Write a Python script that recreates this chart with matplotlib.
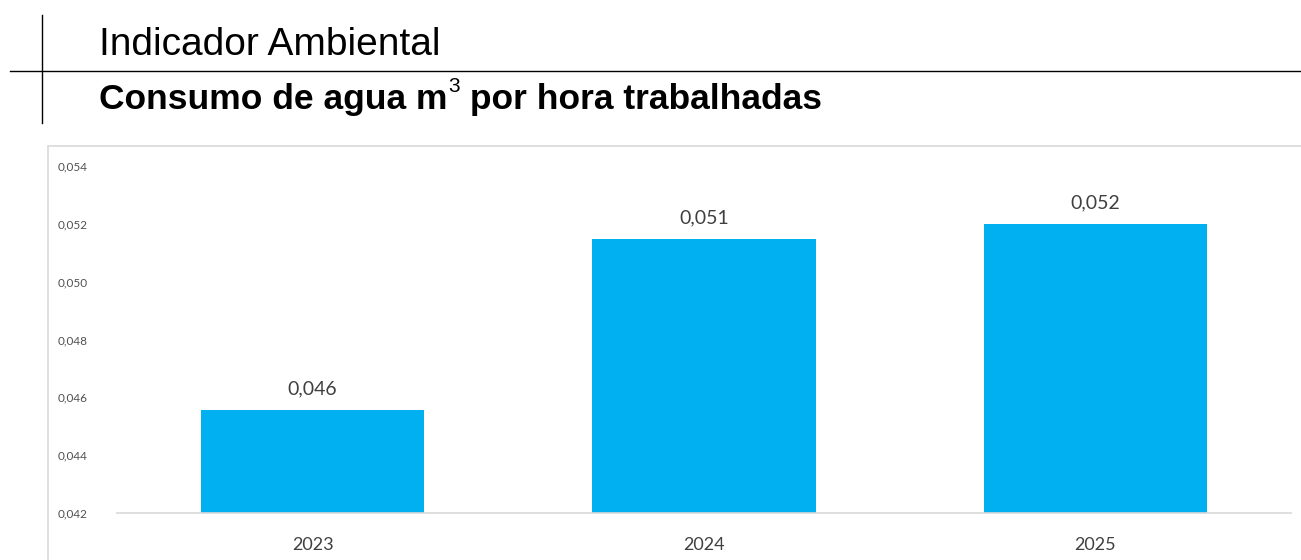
import matplotlib.pyplot as plt
from matplotlib.patches import Rectangle
from matplotlib.lines import Line2D

anos = ["2023", "2024", "2025"]
consumo = [0.04556, 0.05148, 0.05199]
rotulos = ["0,046", "0,051", "0,052"]
yticks = [0.042, 0.044, 0.046, 0.048, 0.050, 0.052, 0.054]
ytick_labels = ["0,042", "0,044", "0,046", "0,048", "0,050", "0,052", "0,054"]

W, H = 1301, 560
fig = plt.figure(figsize=(W / 100, H / 100), dpi=100)

# cabecalho
fig.add_artist(Line2D([42 / W, 42 / W], [1 - 15 / H, 1 - 123 / H], color="black", lw=1))
fig.add_artist(Line2D([10 / W, 1.0], [1 - 71 / H, 1 - 71 / H], color="black", lw=1))
fig.text(99 / W, 1 - 45 / H, "Indicador Ambiental", fontsize=28, family="Liberation Sans",
         va="center", ha="left", color="black")

# subtitulo em pedacos por causa do expoente
r = fig.canvas.get_renderer()
t1 = fig.text(99 / W, 1 - 100 / H, "Consumo de agua m", fontsize=25.5,
              family="Liberation Sans", fontweight="bold", va="center", ha="left")
x1 = t1.get_window_extent(r).x1
t2 = fig.text(x1 / W + 1 / W, 1 - 86 / H, "3", fontsize=15, family="Liberation Sans",
              va="center", ha="left")
x2 = t2.get_window_extent(r).x1
fig.text(x2 / W, 1 - 100 / H, " por hora trabalhadas", fontsize=25.5,
         family="Liberation Sans", fontweight="bold", va="center", ha="left")

# moldura do grafico
fig.add_artist(Rectangle((48 / W, -0.1), 1.1, 1 - 146 / H + 0.1, transform=fig.transFigure,
                         facecolor="none", edgecolor="#d9d9d9", lw=1.2))

ax = fig.add_axes([117 / W, 47 / H, (1291 - 117) / W, (513 - 166) / H])
x = range(len(anos))
bars = ax.bar(x, consumo, width=0.57, color="#00B0F0", zorder=2)
ax.set_xlim(-0.5, 2.5)
ax.set_ylim(0.042, 0.054)
ax.set_yticks(yticks)
ax.set_yticklabels(ytick_labels, family="Lato", fontsize=8.5, color="#505050")
ax.set_xticks(list(x))
ax.set_xticklabels(anos, family="Lato", fontsize=13, color="#404040")
ax.tick_params(axis="both", length=0)
ax.tick_params(axis="y", pad=21)
ax.tick_params(axis="x", pad=17)
for s in ["top", "right", "left"]:
    ax.spines[s].set_visible(False)
ax.spines["bottom"].set_color("#d9d9d9")
ax.spines["bottom"].set_linewidth(1.2)

for b, lab in zip(bars, rotulos):
    ax.annotate(lab, (b.get_x() + b.get_width() / 2, b.get_height()), xytext=(0, 9),
                textcoords="offset points", ha="center", va="bottom",
                family="Lato", fontsize=14, color="#404040")

fig.savefig("out.png", dpi=100)
